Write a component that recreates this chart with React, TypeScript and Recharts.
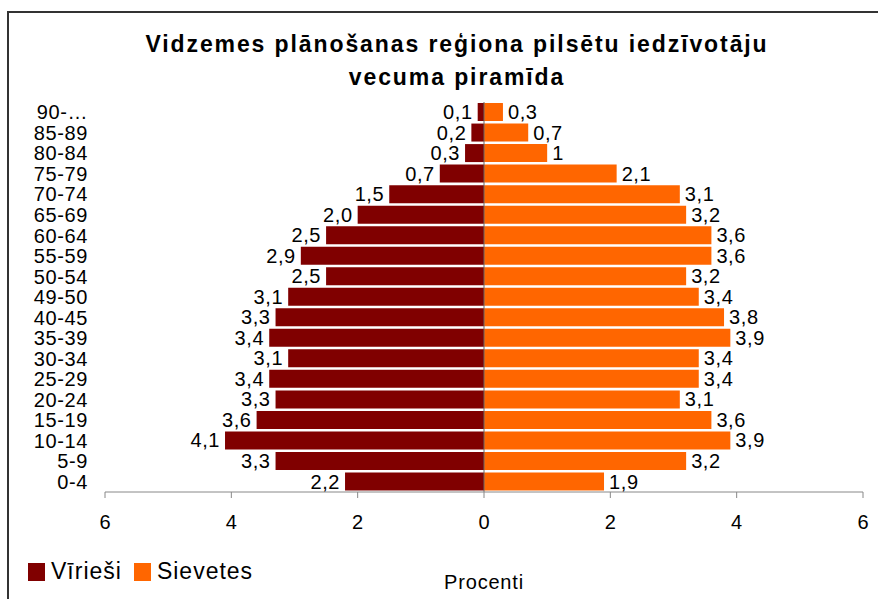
import React from 'react';
import { BarChart, Bar, XAxis, YAxis, LabelList, ReferenceLine } from 'recharts';

const categories = ['90-…', '85-89', '80-84', '75-79', '70-74', '65-69', '60-64', '55-59', '50-54', '49-50', '40-45', '35-39', '30-34', '25-29', '20-24', '15-19', '10-14', '5-9', '0-4'];
const maleValues = [0.1, 0.2, 0.3, 0.7, 1.5, 2.0, 2.5, 2.9, 2.5, 3.1, 3.3, 3.4, 3.1, 3.4, 3.3, 3.6, 4.1, 3.3, 2.2];
const femaleValues = [0.3, 0.7, 1, 2.1, 3.1, 3.2, 3.6, 3.6, 3.2, 3.4, 3.8, 3.9, 3.4, 3.4, 3.1, 3.6, 3.9, 3.2, 1.9];
const maleLabels = ['0,1', '0,2', '0,3', '0,7', '1,5', '2,0', '2,5', '2,9', '2,5', '3,1', '3,3', '3,4', '3,1', '3,4', '3,3', '3,6', '4,1', '3,3', '2,2'];
const femaleLabels = ['0,3', '0,7', '1', '2,1', '3,1', '3,2', '3,6', '3,6', '3,2', '3,4', '3,8', '3,9', '3,4', '3,4', '3,1', '3,6', '3,9', '3,2', '1,9'];
const xTicks = [-6, -4, -2, 0, 2, 4, 6];
const seriesNames = ['Vīrieši', 'Sievetes'];
const colors = ['#800000', '#FF6600'];

const data = categories.map((c, i) => ({
  cat: c,
  male: -maleValues[i],
  female: femaleValues[i],
  maleLabel: maleLabels[i],
  femaleLabel: femaleLabels[i],
}));

const FONT = '"Liberation Sans", Arial, sans-serif';

const makeLabel = (side: 'left' | 'right') => (props: any) => {
  const { x, y, width, height, value } = props;
  const left = Math.min(x, x + width);
  const right = Math.max(x, x + width);
  const tx = side === 'left' ? left - 5 : right + 5;
  return (
    <text
      x={tx}
      y={y + height / 2}
      textAnchor={side === 'left' ? 'end' : 'start'}
      dominantBaseline="central"
      fill="#000"
      fontSize={20}
      fontFamily={FONT}
      letterSpacing={0.6}
    >
      {value}
    </text>
  );
};

export default function App() {
  return (
    <div style={{ position: 'absolute', left: 0, top: 0, width: 878, height: 599, overflow: 'hidden', background: '#fff' }}>
      <div style={{ position: 'absolute', left: 7, top: 11, width: 900, height: 700, borderLeft: '2px solid #333', borderTop: '2px solid #333' }} />
      <div style={{ position: 'absolute', left: 0, top: 28, width: 914, textAlign: 'center', fontFamily: FONT, fontWeight: 'bold', fontSize: 23, letterSpacing: 1.9, lineHeight: '33px', color: '#000' }}>
        Vidzemes plānošanas reģiona pilsētu iedzīvotāju<br />vecuma piramīda
      </div>
      <div style={{ position: 'absolute', left: 0, top: 0 }}>
        <BarChart
          width={878}
          height={599}
          data={data}
          layout="vertical"
          stackOffset="sign"
          barCategoryGap="5%"
          margin={{ top: 102, right: 15, bottom: 8, left: 0 }}
        >
          <XAxis
            type="number"
            domain={[-6, 6]}
            ticks={xTicks}
            tickFormatter={(v: number) => String(Math.abs(v))}
            stroke="#888"
            tickSize={6}
            tickMargin={17}
            height={99}
            tick={{ fill: '#000', fontSize: 20, fontFamily: FONT }}
            label={{ value: 'Procenti', position: 'insideBottom', offset: 2, fill: '#000', fontSize: 20, fontFamily: FONT, letterSpacing: 0.8 }}
          />
          <YAxis
            type="category"
            dataKey="cat"
            width={105}
            axisLine={false}
            tickLine={false}
            tickSize={0}
            tickMargin={17}
            interval={0}
            tick={{ fill: '#000', fontSize: 20, fontFamily: FONT, letterSpacing: 0.6 }}
          />
          <Bar dataKey="male" stackId="a" fill={colors[0]} isAnimationActive={false} name={seriesNames[0]}>
            <LabelList dataKey="maleLabel" content={makeLabel('left')} />
          </Bar>
          <Bar dataKey="female" stackId="a" fill={colors[1]} isAnimationActive={false} name={seriesNames[1]}>
            <LabelList dataKey="femaleLabel" content={makeLabel('right')} />
          </Bar>
          <ReferenceLine x={0} stroke="#666" strokeWidth={1} />
        </BarChart>
      </div>
      <div style={{ position: 'absolute', left: 28, top: 558, display: 'flex', alignItems: 'center', fontFamily: FONT, fontSize: 23, letterSpacing: 1, color: '#000' }}>
        {seriesNames.map((n, i) => (
          <div key={n} style={{ display: 'flex', alignItems: 'center', marginRight: 12 }}>
            <div style={{ width: 17, height: 18, background: colors[i], marginRight: 6 }} />
            <span>{n}</span>
          </div>
        ))}
      </div>
    </div>
  );
}
